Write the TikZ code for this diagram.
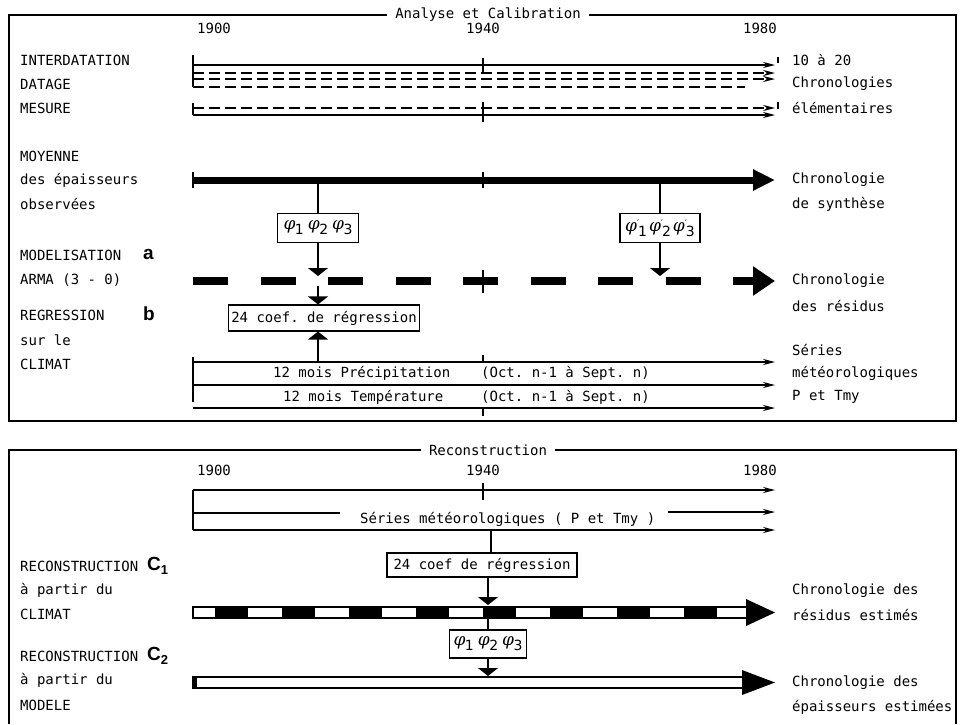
\documentclass[tikz,border=0pt]{standalone}
\usepackage{fontspec}
\setmonofont{DejaVu Sans Mono}
\newfontfamily\tagfont{Liberation Sans}
\newfontfamily\phifont{DejaVu Serif}
\newfontfamily\digfont{DejaVu Sans}
\usetikzlibrary{arrows.meta}
\newcommand{\phis}[1]{{\phifont\itshape\fontsize{17}{17}\selectfont φ}\kern-0.5pt\raisebox{-5pt}{\digfont\fontsize{14}{14}\selectfont #1}}
\newcommand{\phip}[1]{{\phifont\itshape\fontsize{17}{17}\selectfont φ}\raisebox{5pt}{\digfont\fontsize{9}{9}\selectfont ′}\kern-1pt\raisebox{-5pt}{\digfont\fontsize{14}{14}\selectfont #1}}
\begin{document}
\begin{tikzpicture}[x=1pt,y=-1pt,
  txt/.style={font=\ttfamily\fontsize{14}{16}\selectfont, inner sep=0pt, anchor=west},
  ctxt/.style={font=\ttfamily\fontsize{14}{16}\selectfont, inner sep=0pt},
  tagn/.style={font=\tagfont\bfseries\fontsize{19}{19}\selectfont, inner sep=0pt, anchor=west},
  thinl/.style={line width=1.1pt},
  tarr/.style={line width=1.1pt, -{Stealth[length=12pt,width=6pt]}},
  varr/.style={line width=1.3pt, -{Triangle[length=8pt,width=20pt]}},
  dsh/.style={dash pattern=on 11pt off 5pt},
  pbox/.style={draw, line width=1.1pt, inner sep=1pt, minimum height=29pt},
  rbox/.style={draw, line width=1.1pt, inner sep=3pt, font=\ttfamily\fontsize{14}{16}\selectfont, minimum height=26pt}]
\useasboundingbox (0,0) rectangle (964,724);
% ---------- frames
\node[ctxt] (t1) at (488,15) {Analyse et Calibration};
\draw[thinl] ([xshift=-8pt]t1.west) -- (9,15) -- (9,421) -- (956,421) -- (956,15) -- ([xshift=8pt]t1.east);
\node[ctxt] (t2) at (488,450) {Reconstruction};
\draw[thinl] ([xshift=-8pt]t2.west) -- (9,450) -- (9,724);
\draw[thinl] (956,724) -- (956,450) -- ([xshift=8pt]t2.east);
% ---------- years
\node[txt] (y1a) at (197,28) {1900};
\node[ctxt] (y1b) at (483,28) {1940};
\node[txt,anchor=east] (y1c) at (777,28) {1980};
\node[txt] (y2a) at (197,470) {1900};
\node[ctxt] (y2b) at (483,470) {1940};
\node[txt,anchor=east] (y2c) at (777,470) {1980};
% ---------- left labels (top)
\node[txt] (l1) at (20,60) {INTERDATATION};
\node[txt] (l2) at (20,84) {DATAGE};
\node[txt] (l3) at (20,108) {MESURE};
\node[txt] (l4) at (20,156) {MOYENNE};
\node[txt] (l5) at (20,180) {des épaisseurs};
\node[txt] (l6) at (20,204) {observées};
\node[txt] (l7) at (20,255) {MODELISATION};
\node[tagn] (ta) at (143,254) {a};
\node[txt] (l8) at (20,280) {ARMA (3 - 0)};
\node[txt] (l9) at (20,315) {REGRESSION};
\node[tagn] (tb) at (143,314) {b};
\node[txt] (l10) at (20,340) {sur le};
\node[txt] (l11) at (20,364) {CLIMAT};
% ---------- right labels (top)
\node[txt] (r1) at (792,60) {10 à 20};
\node[txt] (r2) at (792,84) {Chronologies};
\node[txt] (r3) at (792,108) {élémentaires};
\node[txt] (r4) at (792,180) {Chronologie};
\node[txt] (r5) at (792,204) {de synthèse};
\node[txt] (r6) at (792,281) {Chronologie};
\node[txt] (r7) at (792,306) {des résidus};
\node[txt] (r8) at (792,350) {Séries};
\node[txt] (r9) at (792,373) {météorologiques};
\node[txt] (r10) at (792,397) {P et Tmy};
% ---------- elementary chronologies
\draw[tarr] (193,65) -- (775,65);
\draw[tarr,dsh] (193,73) -- (775,73);
\draw[tarr,dsh] (193,79) -- (775,79);
\draw[thinl,dsh] (193,87) -- (745,87);
\draw[thinl] (193,55) -- (193,87);
\draw[tarr,dsh] (193,108) -- (775,108);
\draw[tarr] (193,115) -- (775,115);
\draw[thinl] (193,103) -- (193,115);
\draw[thinl] (483,58) -- (483,72);
\draw[thinl] (483,102) -- (483,122);
\draw[thinl] (778,57) -- (778,63);
\draw[thinl] (778,102) -- (778,109);
% ---------- synthesis chronology
\coordinate (m0) at (193,180);
\coordinate (m1) at (775,180);
\draw[line width=7pt, -{Triangle[length=22pt,width=20pt]}] (m0) -- (m1);
\draw[thinl] (193,172) -- (193,188);
\draw[thinl] (483,172) -- (483,188);
\node[pbox, minimum width=81pt] (p1) at (318,228) {\phis{1}\hspace{4pt}\phis{2}\hspace{4pt}\phis{3}};
\node[pbox, minimum width=80pt] (p2) at (660,228) {\phip{1}\hspace{2pt}\phip{2}\hspace{2pt}\phip{3}};
\draw[thinl] (318,180) -- (p1.north);
\draw[thinl] (660,180) -- (p2.north);
% ---------- residual chronology
\draw[line width=8pt, dash pattern=on 35pt off 32.5pt] (193,281) -- (755,281);
\draw[line width=8pt, -{Triangle[length=22pt,width=28pt]}] (733,281) -- (775,281);
\draw[thinl] (483,270) -- (483,293);
\coordinate (d1) at (318,276);
\coordinate (d2) at (660,276);
\draw[varr] (p1.south) -- (d1);
\draw[varr] (p2.south) -- (d2);
% ---------- regression
\node[rbox, minimum width=184pt] (rg1) at (324,318) {24 coef. de régression};
\coordinate (d3) at (318,286);
\draw[varr] (d3) -- (d3 |- rg1.north);
\coordinate (c1) at (318,362);
\draw[varr] (c1) -- (c1 |- rg1.south);
\draw[tarr] (193,362) -- (775,362);
\draw[tarr] (193,385) -- (775,385);
\draw[tarr] (193,408) -- (775,408);
\draw[thinl] (193,357) -- (193,402);
\draw[thinl] (483,355) -- (483,362);
\draw[thinl] (483,408) -- (483,416);
\node[txt] (pr1) at (273,373) {12 mois Précipitation};
\node[txt] (pr2) at (481,373) {(Oct. n-1 à Sept. n)};
\node[txt] (te1) at (283,397) {12 mois Température};
\node[txt] (te2) at (481,397) {(Oct. n-1 à Sept. n)};
% ---------- reconstruction
\draw[tarr] (193,490) -- (775,490);
\draw[thinl] (483,483) -- (483,500);
\node[txt] (sm) at (360,519) {Séries météorologiques ( P et Tmy )};
\draw[thinl] (193,513) -- (340,513);
\draw[tarr] (668,512) -- (775,512);
\draw[tarr] (193,530) -- (775,530);
\draw[thinl] (193,490) -- (193,530);
\node[rbox, minimum width=190pt, minimum height=24pt] (rg2) at (482,565) {24 coef de régression};
\coordinate (c2) at (491,530);
\draw[thinl] (c2) -- (c2 |- rg2.north);
\coordinate (k0) at (488,605);
\draw[varr] (k0 |- rg2.south) -- (k0);
% checkered bar
\draw[thinl, fill=white] (193,607) rectangle (748,618);
\foreach \k in {0,...,7} \fill ({215+67*\k},607) rectangle ({248+67*\k},618);
\fill (746,599) -- (775,612.5) -- (746,626) -- cycle;
\node[pbox, minimum width=77pt, minimum height=28pt] (p3) at (488,644) {\phis{1}\hspace{4pt}\phis{2}\hspace{4pt}\phis{3}};
\draw[thinl] (488,618) -- (p3.north);
\coordinate (k1) at (488,676);
\draw[varr] (p3.south) -- (k1);
% hollow bar
\draw[line width=1.6pt] (193,677) rectangle (744,688);
\fill (192,676) rectangle (197,689);
\fill (742,670) -- (775,682.5) -- (742,695) -- cycle;
% ---------- left labels (bottom)
\node[txt] (b1) at (20,566) {RECONSTRUCTION};
\node[tagn] (tc1) at (147,566) {C\raisebox{-4pt}{\fontsize{13}{13}\selectfont 1}};
\node[txt] (b2) at (20,590) {à partir du};
\node[txt] (b3) at (20,614) {CLIMAT};
\node[txt] (b4) at (20,656) {RECONSTRUCTION};
\node[tagn] (tc2) at (147,656) {C\raisebox{-4pt}{\fontsize{13}{13}\selectfont 2}};
\node[txt] (b5) at (20,680) {à partir du};
\node[txt] (b6) at (20,705) {MODELE};
% ---------- right labels (bottom)
\node[txt] (s1) at (792,591) {Chronologie des};
\node[txt] (s2) at (792,615) {résidus estimés};
\node[txt] (s3) at (792,683) {Chronologie des};
\node[txt] (s4) at (792,707) {épaisseurs estimées};
\end{tikzpicture}
\end{document}
